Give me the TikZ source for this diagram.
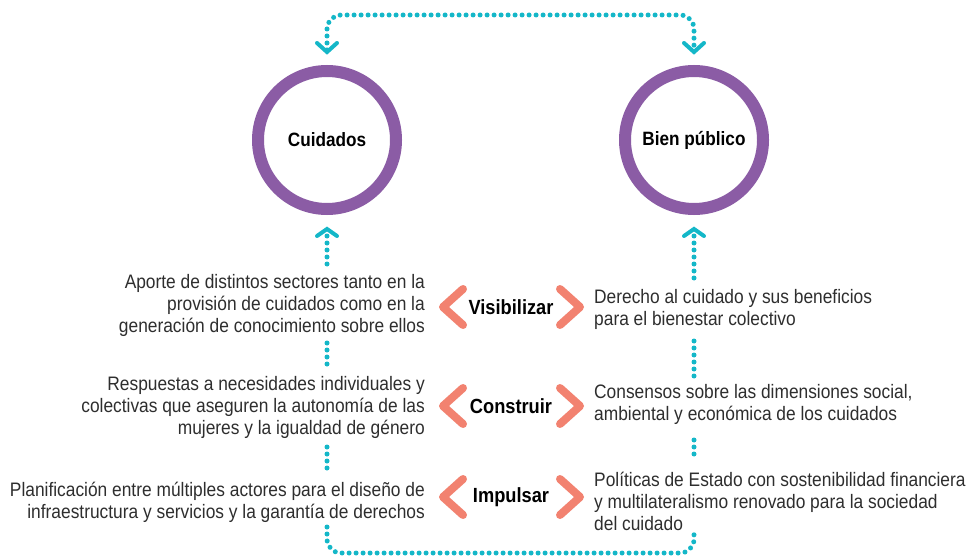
\documentclass[tikz,border=0pt]{standalone}
\usepackage{fontspec}
\setmainfont[FakeStretch=0.89]{Liberation Sans}
\usetikzlibrary{calc}
\definecolor{purp}{RGB}{139,92,165}
\definecolor{tealc}{RGB}{20,183,200}
\definecolor{coral}{RGB}{242,130,112}
\tikzset{
  ring/.style={circle,draw=purp,line width=12pt,minimum size=138pt,inner sep=0pt,font=\fontsize{19.3}{22}\selectfont\bfseries},
  body/.style={inner sep=0pt,font=\fontsize{19.5}{22}\selectfont,text=black!82},
  verb/.style={inner sep=0pt,font=\fontsize{20.5}{22}\selectfont\bfseries},
  chev/.style={draw=coral,line width=8pt,line cap=round,line join=round},
  dots/.style={draw=tealc,line width=5pt,line cap=round,dash pattern=on 0pt off 7pt},
  tip/.style={draw=tealc,line width=4pt,line cap=round,line join=miter}
}
\begin{document}
\begin{tikzpicture}[x=1pt,y=-1pt]
\useasboundingbox[fill=white] (0,0) rectangle (966,556);
\node[ring] (c1) at (327,140) {Cuidados};
\node[ring] (c2) at (694,140) {Bien público};

\node[body,align=right,anchor=east] (l1) at (425,305) {Aporte de distintos sectores tanto en la\\provisión de cuidados como en la\\generación de conocimiento sobre ellos};
\node[body,align=right,anchor=east] (l2) at (425,407) {Respuestas a necesidades individuales y\\colectivas que aseguren la autonomía de las\\mujeres y la igualdad de género};
\node[body,align=right,anchor=east] (l3) at (425,502) {Planificación entre múltiples actores para el diseño de\\infraestructura y servicios y la garantía de derechos};

\node[body,align=left,anchor=west] (r1) at (594,309) {Derecho al cuidado y sus beneficios\\para el bienestar colectivo};
\node[body,align=left,anchor=west] (r2) at (594,404) {Consensos sobre las dimensiones social,\\ambiental y económica de los cuidados};
\node[body,align=left,anchor=west] (r3) at (594,501) {Políticas de Estado con sostenibilidad financiera\\y multilateralismo renovado para la sociedad\\del cuidado};

\node[verb] (v1) at (511,307) {Visibilizar};
\node[verb] (v2) at (511,406) {Construir};
\node[verb] (v3) at (511,497) {Impulsar};

\foreach \v in {v1,v2,v3}{
  \draw[chev] ($(\v)+(-48,-18)$) -- ($(\v)+(-68,0)$) -- ($(\v)+(-48,18)$);
  \draw[chev] ($(\v)+(49,-18)$) -- ($(\v)+(69,0)$) -- ($(\v)+(49,18)$);
}

% top connector
\coordinate (t1) at (327,50);
\coordinate (t2) at (694,50);
\draw[dots,rounded corners=14pt] (t1) -- (327,15) -- (694,15) -- (t2);
\draw[tip] (317,43) -- (327,52) -- (337,43);
\draw[tip] (684,43) -- (694,52) -- (704,43);

% up arrows to circles
\coordinate (u1) at (327,229);
\coordinate (u2) at (694,229);
\draw[dots] (327,236) -- (327,266);
\draw[dots] (694,236) -- (694,280);
\draw[tip] (317,236) -- (u1) -- (337,236);
\draw[tip] (684,236) -- (u2) -- (704,236);

% between
\draw[dots] (327,343) -- (327,366);
\draw[dots] (327,447) -- (327,469);
\draw[dots] (694,341) -- (694,380);
\draw[dots] (694,440) -- (694,461);

% bottom connector
\draw[dots,rounded corners=14pt] (327,527) -- (327,553) -- (694,553) -- (694,532);
\end{tikzpicture}
\end{document}
